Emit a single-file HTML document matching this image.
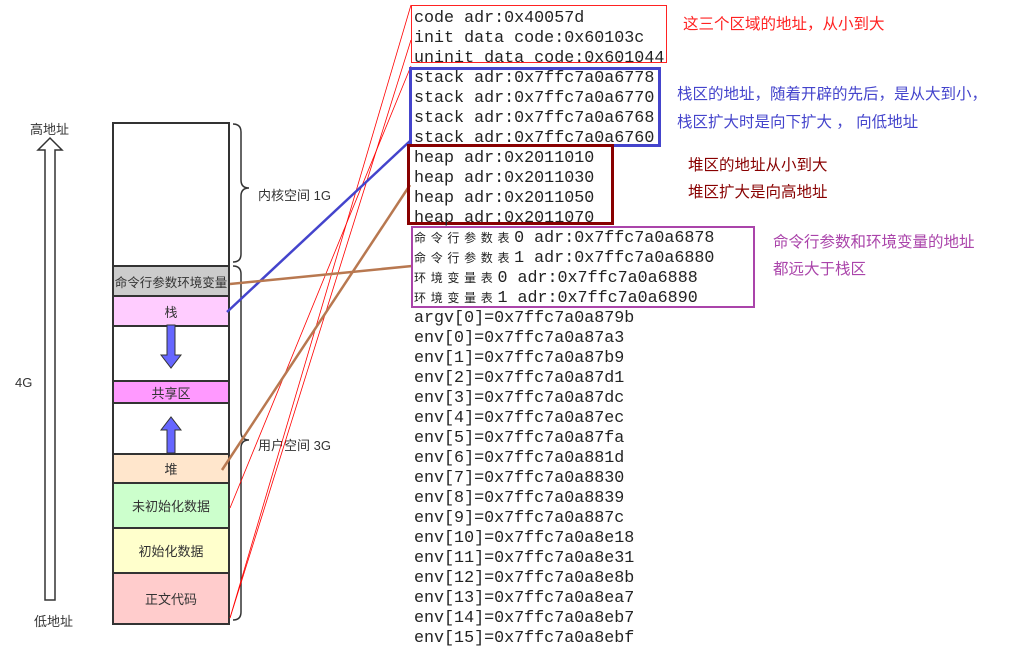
<!DOCTYPE html>
<html><head><meta charset="utf-8"><style>
body{margin:0;width:1020px;height:646px;background:#fff;position:relative;overflow:hidden;font-family:"Liberation Sans","Noto Sans CJK SC",sans-serif}
.a{position:absolute;white-space:nowrap}
.m{font-family:"Liberation Mono","Noto Sans CJK SC",monospace;font-size:16.7px;color:#222;line-height:20px;left:414px}
.seg{position:absolute;left:112px;width:118px;border:2px solid #333;box-sizing:border-box;display:flex;align-items:center;justify-content:center;font-size:13px;color:#333}
.c{display:inline-block;width:16.7px;font-size:12px;line-height:12px;font-family:"Noto Sans CJK SC",sans-serif}
.n{font-size:15.5px}
</style></head><body>
<div class="a" style="left:30px;top:119px;font-size:13px;color:#333">高地址</div>
<div class="a" style="left:34px;top:611px;font-size:13px;color:#333">低地址</div>
<div class="a" style="left:15px;top:375px;font-size:13px;color:#333">4G</div>

<div class="seg" style="top:122px;height:145px"></div>
<div class="seg" style="top:265px;height:32px;background:#ccc;font-size:12.5px">命令行参数环境变量</div>
<div class="seg" style="top:295px;height:32px;background:#fcf">栈</div>
<div class="seg" style="top:325px;height:57px"></div>
<div class="seg" style="top:380px;height:24px;background:#f9f">共享区</div>
<div class="seg" style="top:402px;height:53px"></div>
<div class="seg" style="top:453px;height:31px;background:#ffe6cc">堆</div>
<div class="seg" style="top:482px;height:47px;background:#cfc">未初始化数据</div>
<div class="seg" style="top:527px;height:47px;background:#ffc">初始化数据</div>
<div class="seg" style="top:572px;height:53px;background:#fcc">正文代码</div>

<div class="a" style="left:258px;top:185px;font-size:13px;color:#333">内核空间 1G</div>
<div class="a" style="left:258px;top:435px;font-size:13px;color:#333">用户空间 3G</div>

<svg class="a" style="left:0;top:0" width="1020" height="646">
<path d="M45,600 V150 H38 L50,138 L62,150 H55 V600 Z" fill="#fff" stroke="#333" stroke-width="1.5"/>
<path d="M233,124 q8,0 8,8 v48 q0,8 8,8 q-8,0 -8,8 v58 q0,8 -8,8" fill="none" stroke="#333" stroke-width="1.5"/>
<path d="M233,266 q8,0 8,8 v158 q0,8 8,8 q-8,0 -8,8 v164 q0,8 -8,8" fill="none" stroke="#333" stroke-width="1.5"/>
<path d="M167,325 V355 H161 L171,368 L181,355 H175 V325 Z" fill="#66f" stroke="#333" stroke-width="1"/>
<path d="M167,453 V430 H161 L171,417 L181,430 H175 V453 Z" fill="#66f" stroke="#333" stroke-width="1"/>
<line x1="230" y1="618" x2="411" y2="5" stroke="#f00" stroke-width="0.8"/>
<line x1="230" y1="618" x2="411" y2="40" stroke="#f00" stroke-width="0.8"/>
<line x1="230" y1="508" x2="411" y2="66" stroke="#f00" stroke-width="0.8"/>
<line x1="227" y1="312" x2="410" y2="141" stroke="#44c" stroke-width="2.5"/>
<line x1="230" y1="284" x2="412" y2="266" stroke="#b87850" stroke-width="2.5"/>
<line x1="222" y1="470" x2="410" y2="185" stroke="#b87850" stroke-width="2.5"/>
<rect x="411.5" y="5.5" width="255" height="57" fill="none" stroke="#f22" stroke-width="1"/>
<rect x="410.5" y="68.5" width="249" height="77" fill="none" stroke="#44c" stroke-width="3"/>
<rect x="408.5" y="145.5" width="204" height="78" fill="none" stroke="#800" stroke-width="3"/>
<rect x="412" y="227" width="342" height="80" fill="none" stroke="#a4a" stroke-width="2"/>
</svg>

<div class="a m" style="top:9px">code adr:0x40057d<br>init data code:0x60103c<br>uninit data code:0x601044<br>stack adr:0x7ffc7a0a6778<br>stack adr:0x7ffc7a0a6770<br>stack adr:0x7ffc7a0a6768<br>stack adr:0x7ffc7a0a6760<br>heap adr:0x2011010<br>heap adr:0x2011030<br>heap adr:0x2011050<br>heap adr:0x2011070<br>
<span class="c">命</span><span class="c">令</span><span class="c">行</span><span class="c">参</span><span class="c">数</span><span class="c">表</span>0 adr:0x7ffc7a0a6878<br>
<span class="c">命</span><span class="c">令</span><span class="c">行</span><span class="c">参</span><span class="c">数</span><span class="c">表</span>1 adr:0x7ffc7a0a6880<br>
<span class="c">环</span><span class="c">境</span><span class="c">变</span><span class="c">量</span><span class="c">表</span>0 adr:0x7ffc7a0a6888<br>
<span class="c">环</span><span class="c">境</span><span class="c">变</span><span class="c">量</span><span class="c">表</span>1 adr:0x7ffc7a0a6890<br>
argv[0]=0x7ffc7a0a879b<br>env[0]=0x7ffc7a0a87a3<br>env[1]=0x7ffc7a0a87b9<br>env[2]=0x7ffc7a0a87d1<br>env[3]=0x7ffc7a0a87dc<br>env[4]=0x7ffc7a0a87ec<br>env[5]=0x7ffc7a0a87fa<br>env[6]=0x7ffc7a0a881d<br>env[7]=0x7ffc7a0a8830<br>env[8]=0x7ffc7a0a8839<br>env[9]=0x7ffc7a0a887c<br>env[10]=0x7ffc7a0a8e18<br>env[11]=0x7ffc7a0a8e31<br>env[12]=0x7ffc7a0a8e8b<br>env[13]=0x7ffc7a0a8ea7<br>env[14]=0x7ffc7a0a8eb7<br>env[15]=0x7ffc7a0a8ebf</div>

<div class="a n" style="left:683px;top:12px;color:#f22">这三个区域的地址，从小到大</div>
<div class="a n" style="left:677px;top:82px;color:#44c">栈区的地址，随着开辟的先后，是从大到小，</div>
<div class="a n" style="left:677px;top:110px;color:#44c">栈区扩大时是向下扩大 ， 向低地址</div>
<div class="a n" style="left:688px;top:153px;color:#800">堆区的地址从小到大</div>
<div class="a n" style="left:688px;top:180px;color:#800">堆区扩大是向高地址</div>
<div class="a n" style="left:773px;top:230px;color:#a4a">命令行参数和环境变量的地址</div>
<div class="a n" style="left:773px;top:257px;color:#a4a">都远大于栈区</div>
</body></html>
